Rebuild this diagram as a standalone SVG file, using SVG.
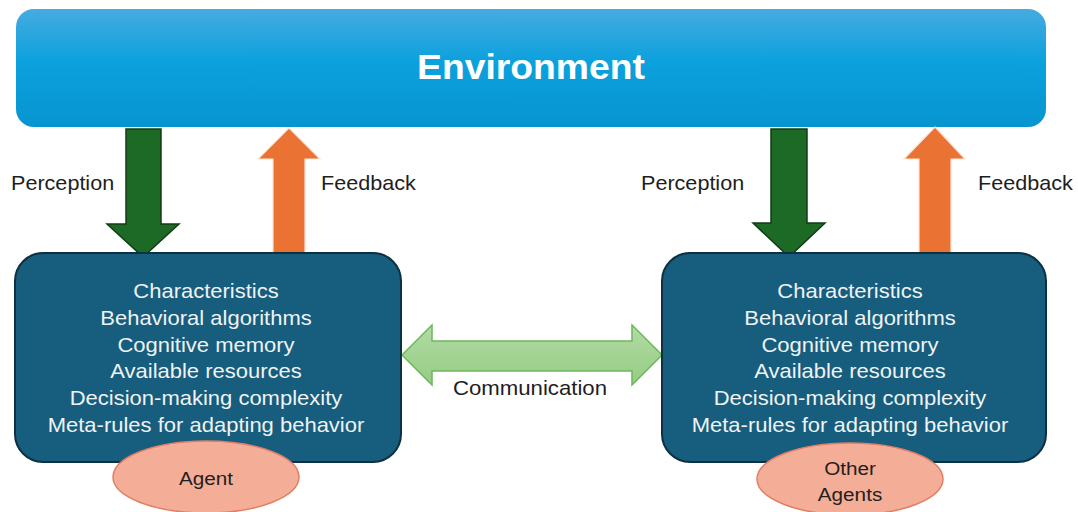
<svg xmlns="http://www.w3.org/2000/svg" width="1078" height="512" viewBox="0 0 1078 512">
  <defs>
    <linearGradient id="envFill" x1="0" y1="0" x2="0" y2="1">
      <stop offset="0" stop-color="#45abe0"/>
      <stop offset="0.45" stop-color="#0ba1dd"/>
      <stop offset="1" stop-color="#0795d0"/>
    </linearGradient>
    <linearGradient id="commFill" x1="0" y1="0" x2="0" y2="1">
      <stop offset="0" stop-color="#b2dba4"/>
      <stop offset="1" stop-color="#94cc83"/>
    </linearGradient>
    <style>
      .agentBox { fill: #175d7d; stroke: #0e3142; stroke-width: 2; }
      .body { font-family: "Liberation Sans", Arial, sans-serif; font-size: 20px; fill: #eef3f6; text-anchor: middle; }
      .label { font-family: "Liberation Sans", Arial, sans-serif; font-size: 20px; fill: #1e1e1e; }
      .tag { font-family: "Liberation Sans", Arial, sans-serif; font-size: 19px; fill: #231f1e; text-anchor: middle; }
      .tagShape { fill: #f4ad97; stroke: #e17f66; stroke-width: 1.5; }
      .down { fill: #1d6a26; stroke: #103d15; stroke-width: 1.5; }
      .up { fill: #ea7233; stroke: #fbe3d4; stroke-width: 1.2; }
      .comm { fill: url(#commFill); stroke: #6db85c; stroke-width: 1.5; }
    </style>
  </defs>

  <rect width="1078" height="512" fill="#ffffff"/>

  <!-- Environment -->
  <g id="environment">
    <rect x="16" y="9" width="1030" height="118" rx="18" ry="18" fill="url(#envFill)"/>
    <text x="531" y="79" font-family="Liberation Sans, Arial, sans-serif" font-weight="bold" font-size="35" fill="#ffffff" text-anchor="middle" textLength="228" lengthAdjust="spacingAndGlyphs">Environment</text>
  </g>

  <!-- Connectors -->
  <g id="connectors">
    <!-- left agent: perception / feedback -->
    <polygon class="down" points="126,129 161,129 161,224 179,224 143,257 107,224 126,224"/>
    <polygon class="up" points="289,128 320,159 305,159 305,253 273,253 273,159 258,159"/>
    <!-- other agents: perception / feedback -->
    <polygon class="down" points="771,129 807,129 807,223 825,223 789,257 753,223 771,223"/>
    <polygon class="up" points="935,127 965,159 951,159 951,253 919,253 919,159 904,159"/>
    <!-- communication -->
    <polygon class="comm" points="402,355 432,325 432,341 632,341 632,325 662,355 632,385 632,371 432,371 432,385"/>

    <g transform="translate(11,190) scale(1.08,1)"><text class="label" x="0" y="0">Perception</text></g>
    <g transform="translate(321,190) scale(1.08,1)"><text class="label" x="0" y="0">Feedback</text></g>
    <g transform="translate(641,190) scale(1.08,1)"><text class="label" x="0" y="0">Perception</text></g>
    <g transform="translate(978,190) scale(1.08,1)"><text class="label" x="0" y="0">Feedback</text></g>
    <g transform="translate(530,395) scale(1.11,1)"><text class="label" x="0" y="0" text-anchor="middle">Communication</text></g>
  </g>

  <!-- Agent -->
  <g id="agent">
    <rect class="agentBox" x="15" y="253" width="386" height="209" rx="28" ry="28"/>
    <g transform="translate(206,0) scale(1.10,1)">
      <text class="body" x="0" y="298">Characteristics</text>
      <text class="body" x="0" y="325">Behavioral algorithms</text>
      <text class="body" x="0" y="352">Cognitive memory</text>
      <text class="body" x="0" y="378">Available resources</text>
      <text class="body" x="0" y="405">Decision-making complexity</text>
      <text class="body" x="0" y="432">Meta-rules for adapting behavior</text>
    </g>
  </g>
  <g id="agent-tag">
    <ellipse class="tagShape" cx="206" cy="477" rx="93" ry="36"/>
    <g transform="translate(206,485) scale(1.09,1)"><text class="tag" x="0" y="0">Agent</text></g>
  </g>

  <!-- Other agents -->
  <g id="other-agents">
    <rect class="agentBox" x="662" y="253" width="384" height="209" rx="28" ry="28"/>
    <g transform="translate(850,0) scale(1.10,1)">
      <text class="body" x="0" y="298">Characteristics</text>
      <text class="body" x="0" y="325">Behavioral algorithms</text>
      <text class="body" x="0" y="352">Cognitive memory</text>
      <text class="body" x="0" y="378">Available resources</text>
      <text class="body" x="0" y="405">Decision-making complexity</text>
      <text class="body" x="0" y="432">Meta-rules for adapting behavior</text>
    </g>
  </g>
  <g id="other-agents-tag">
    <ellipse class="tagShape" cx="850" cy="479" rx="93" ry="36"/>
    <g transform="translate(850,0) scale(1.09,1)">
      <text class="tag" x="0" y="475">Other</text>
      <text class="tag" x="0" y="501">Agents</text>
    </g>
  </g>
</svg>
